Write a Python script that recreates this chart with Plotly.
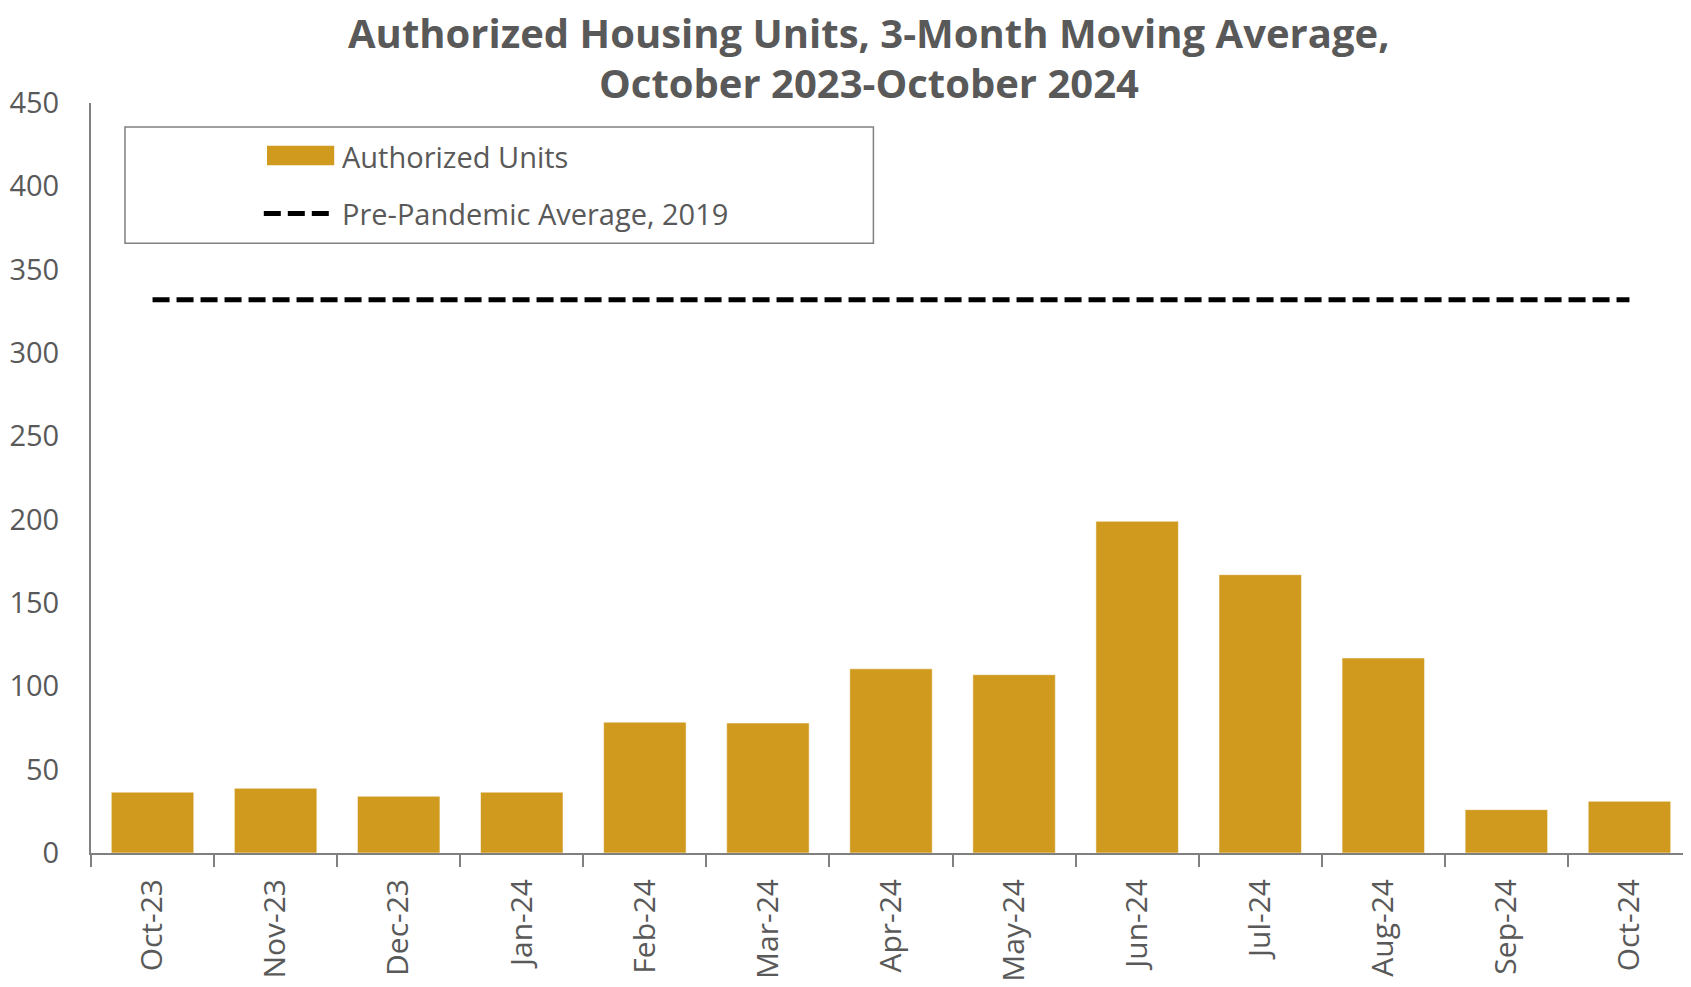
import plotly.graph_objects as go

# Data
months = ['Oct-23', 'Nov-23', 'Dec-23', 'Jan-24', 'Feb-24', 'Mar-24', 'Apr-24',
          'May-24', 'Jun-24', 'Jul-24', 'Aug-24', 'Sep-24', 'Oct-24']
authorized_units = [36.5, 38.8, 34, 36.5, 78.5, 78, 110.5, 107, 199, 167, 117, 26, 31]
pre_pandemic_avg = [332] * len(months)

BAR_COLOR = '#D09A1E'
TEXT_COLOR = '#595959'
AXIS_COLOR = '#808080'
FONT = 'Open Sans'

fig = go.Figure()

fig.add_trace(go.Bar(
    x=months, y=authorized_units,
    name='Authorized Units',
    marker=dict(color=BAR_COLOR, line=dict(color='rgba(255,255,255,0.5)', width=1)),
))

fig.add_trace(go.Scatter(
    x=months, y=pre_pandemic_avg,
    mode='lines', name='Pre-Pandemic Average, 2019',
    line=dict(color='black', width=5, dash='17px,7px'),
))

# hand-built legend (wide swatches like the original)
fig.add_shape(type='rect', xref='paper', yref='paper',
              x0=0.02125, x1=0.489, y0=0.813, y1=0.968,
              line=dict(color=AXIS_COLOR, width=1.5), fillcolor='rgba(0,0,0,0)')
fig.add_shape(type='rect', xref='paper', yref='paper',
              x0=0.110, x1=0.152, y0=0.917, y1=0.943,
              line=dict(width=0), fillcolor=BAR_COLOR)
fig.add_shape(type='line', xref='paper', yref='paper',
              x0=0.108, x1=0.149, y0=0.8527, y1=0.8527,
              line=dict(color='black', width=5, dash='17px,7px'))
for label, ypos in [('Authorized Units', 0.929), ('Pre-Pandemic Average, 2019', 0.8527)]:
    fig.add_annotation(text=label, xref='paper', yref='paper', x=0.1555, y=ypos,
                       xanchor='left', yanchor='middle', showarrow=False,
                       font=dict(family=FONT, size=29, color=TEXT_COLOR))

# two-line title
for line, ypos in [('Authorized Housing Units, 3-Month Moving Average,', 1.0935),
                   ('October 2023-October 2024', 1.0273)]:
    fig.add_annotation(text='<b>' + line + '</b>', xref='paper', yref='paper',
                       x=0.486, y=ypos, xanchor='center', yanchor='middle',
                       showarrow=False, borderpad=0,
                       font=dict(family=FONT, size=40, color=TEXT_COLOR))

fig.update_layout(
    width=1691, height=987,
    margin=dict(l=83, r=8, t=95, b=142),
    paper_bgcolor='white', plot_bgcolor='white',
    font=dict(family=FONT, color=TEXT_COLOR, size=28),
    showlegend=False,
    bargap=0.33,
    xaxis=dict(
        showline=True, linecolor=AXIS_COLOR, linewidth=2,
        ticks='outside', tickson='boundaries', ticklen=12,
        tickcolor=AXIS_COLOR, tickwidth=2,
        tickangle=-90, tickfont=dict(size=30, color=TEXT_COLOR),
        ticklabelstandoff=12,
        showgrid=False, automargin=False,
    ),
    yaxis=dict(
        range=[0, 450], dtick=50,
        showline=True, linecolor=AXIS_COLOR, linewidth=2,
        showgrid=False, zeroline=False, ticks='',
        ticklabelstandoff=24, automargin=False,
        tickfont=dict(size=29, color=TEXT_COLOR),
    ),
)

fig.write_html('out.html')
